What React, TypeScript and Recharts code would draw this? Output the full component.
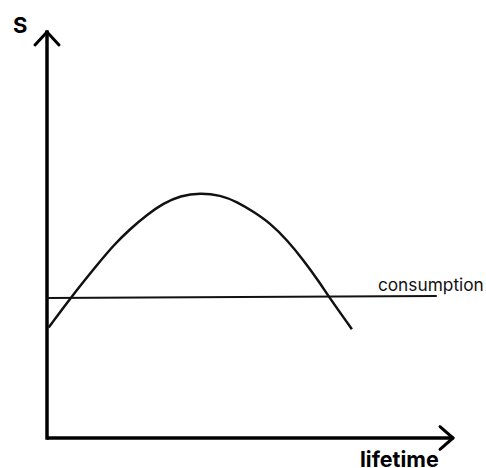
import React from 'react';
import { LineChart, Line, XAxis, YAxis, ReferenceLine, ReferenceDot } from 'recharts';

// Savings curve S over lifetime (data units 0..100)
const lifetime = [0.4, 5.7, 12.3, 16.4, 20.5, 24.6, 28.7, 32.8, 37.8, 42.7, 46.8, 50.9, 55.0, 59.1, 63.2, 67.3, 69.4, 75.1];
const savings = [27.2, 34.4, 42.6, 47.5, 51.5, 55.0, 57.8, 59.7, 60.4, 59.8, 58.2, 55.7, 52.9, 48.8, 43.8, 38.1, 34.8, 26.8];

const consumptionX = [0, 96];
const consumptionY = [34.5, 35.0];

const labels = {
  yAxis: 'S',
  xAxis: 'lifetime',
  consumption: 'consumption',
};

const curveData = lifetime.map((x, i) => ({ x, y: savings[i] }));
const consData = consumptionX.map((x, i) => ({ x, y: consumptionY[i] }));

const AXIS = { stroke: '#000', strokeWidth: 3.5 };

export default function App() {
  return (
    <div style={{ position: 'absolute', left: 0, top: 0, background: '#fff' }}>
      <LineChart width={486} height={468} margin={{ top: 32, right: 33, bottom: 30, left: 47 }}>
        <XAxis type="number" dataKey="x" domain={[0, 100]} allowDataOverflow hide />
        <YAxis type="number" dataKey="y" domain={[0, 100]} allowDataOverflow hide />
        {/* axes */}
        <ReferenceLine segment={[{ x: 0, y: 0 }, { x: 0, y: 100 }]} ifOverflow="visible" {...AXIS} strokeLinecap="square" />
        <ReferenceLine segment={[{ x: 0, y: 0 }, { x: 100, y: 0 }]} ifOverflow="visible" {...AXIS} />
        <ReferenceLine segment={[{ x: -2.96, y: 96.8 }, { x: 0, y: 100 }]} ifOverflow="visible" {...AXIS} strokeWidth={3} strokeLinecap="round" />
        <ReferenceLine segment={[{ x: 2.96, y: 96.8 }, { x: 0, y: 100 }]} ifOverflow="visible" {...AXIS} strokeWidth={3} strokeLinecap="round" />
        <ReferenceLine segment={[{ x: 96.8, y: 2.8 }, { x: 100, y: 0 }]} ifOverflow="visible" {...AXIS} strokeWidth={3} strokeLinecap="round" />
        <ReferenceLine segment={[{ x: 96.8, y: -2.8 }, { x: 100, y: 0 }]} ifOverflow="visible" {...AXIS} strokeWidth={3} strokeLinecap="round" />
        <Line data={consData} dataKey="y" type="linear" stroke="#111" strokeWidth={2} dot={false} isAnimationActive={false} />
        <Line data={curveData} dataKey="y" type="basis" stroke="#111" strokeWidth={2.5} dot={false} isAnimationActive={false} />
        <ReferenceDot
          x={-8.4}
          y={99.75}
          r={0}
          ifOverflow="visible"
          shape={(p: any) => (
            <text x={p.cx} y={p.cy} fontFamily="Inter" fontWeight={700} fontSize={22} fill="#000">
              {labels.yAxis}
            </text>
          )}
        />
        <ReferenceDot
          x={77.1}
          y={-7.1}
          r={0}
          ifOverflow="visible"
          shape={(p: any) => (
            <text x={p.cx} y={p.cy} fontFamily="Inter" fontWeight={700} fontSize={21.5} fill="#000">
              {labels.xAxis}
            </text>
          )}
        />
        <ReferenceDot
          x={81.5}
          y={36.2}
          r={0}
          ifOverflow="visible"
          shape={(p: any) => (
            <text x={p.cx} y={p.cy} fontFamily="Inter" fontSize={17.3} fill="#111">
              {labels.consumption}
            </text>
          )}
        />
      </LineChart>
    </div>
  );
}
